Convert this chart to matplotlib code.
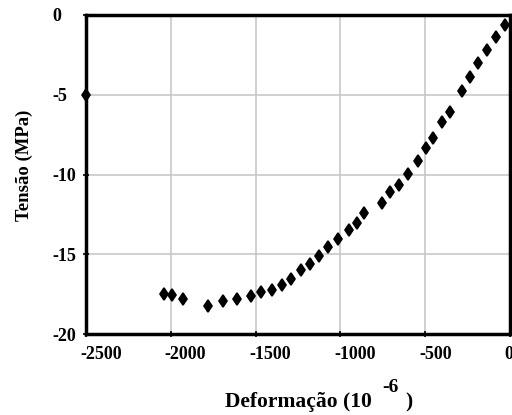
import matplotlib.pyplot as plt
import matplotlib.transforms as mtransforms

# Deformação (10^-6) x Tensão (MPa)
deformacao = [-30, -83, -138, -189, -236, -285, -354, -403, -456, -495,
              -541, -600, -653, -708, -757, -858, -900, -949, -1012, -1071,
              -1124, -1179, -1235, -1291, -1347, -1405, -1471, -1530, -1608, -1690,
              -1779, -1930, -1995, -2040, -2500]
tensao = [-0.63, -1.38, -2.20, -3.02, -3.88, -4.76, -6.10, -6.73, -7.74, -8.37,
          -9.14, -9.96, -10.63, -11.11, -11.76, -12.39, -13.05, -13.46, -14.05, -14.53,
          -15.10, -15.58, -16.01, -16.54, -16.92, -17.23, -17.34, -17.61, -17.78, -17.93,
          -18.24, -17.82, -17.57, -17.47, -5.0]

xticks = [-2500, -2000, -1500, -1000, -500, 0]
yticks = [-20, -15, -10, -5, 0]

plt.rcParams['font.family'] = ['Liberation Serif', 'DejaVu Serif']
plt.rcParams['font.weight'] = 'bold'
plt.rcParams['axes.unicode_minus'] = False

fig = plt.figure(figsize=(5.12, 4.15), dpi=100)
ax = fig.add_axes([0.168, 0.195, 0.828, 0.769])

ax.plot(deformacao, tensao, linestyle="none", marker="d", markersize=6.5,
        markeredgewidth=1.2, color="black", clip_on=False, zorder=3)

ax.set_xlim(-2500, 0)
ax.set_ylim(-20, 0)
ax.set_xticks(xticks)
ax.set_yticks(yticks)
ax.grid(True, color="#c4c4c4", linewidth=1.1)
ax.set_axisbelow(True)
for s in ax.spines.values():
    s.set_linewidth(2.5)
ax.tick_params(direction="inout", length=5, width=1.2, labelsize=13)
ax.tick_params(axis="x", pad=6)
ax.tick_params(axis="y", pad=22)

# rotulos do eixo x deslocados como no original
desloc = mtransforms.ScaledTranslation(-6 / 100, 0, fig.dpi_scale_trans)
for lab in ax.get_xticklabels():
    lab.set_horizontalalignment("left")
    lab.set_transform(lab.get_transform() + desloc)
for lab in ax.get_yticklabels():
    lab.set_horizontalalignment("left")

ax.set_ylabel("Tensão (MPa)", fontsize=13.5, fontweight="bold")
ax.yaxis.set_label_coords(-0.125, 0.53)

# titulo do eixo x com expoente
fig.text(225 / 512, 1 - 407 / 415, "Deformação (10", fontsize=15.5,
         fontweight="bold", ha="left", va="baseline")
fig.text(382 / 512, 1 - 392 / 415, "-6", fontsize=14,
         fontweight="bold", ha="left", va="baseline")
fig.text(405 / 512, 1 - 407 / 415, ")", fontsize=15.5,
         fontweight="bold", ha="left", va="baseline")

fig.savefig("out.png", dpi=100)
